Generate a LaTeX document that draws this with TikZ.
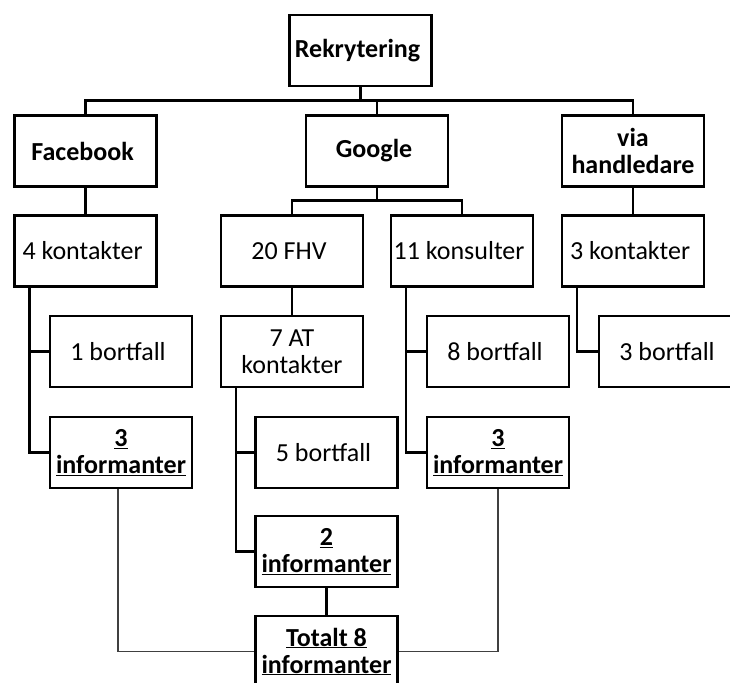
\documentclass[tikz,border=0pt]{standalone}
\usepackage{fontspec}
\setmainfont{Carlito}
\def\boxw{142pt}
\def\boxh{71pt}
\def\armsep{16pt}

\begin{document}
\begin{tikzpicture}[
    x=1pt, y=-1pt,
    orgbox/.style={
      draw, line width=2.4pt, fill=white,
      minimum width=\boxw, minimum height=\boxh,
      inner sep=1pt, align=center,
      font=\fontsize{26}{27}\selectfont
    },
    headbox/.style={
      orgbox, font=\fontsize{26}{27}\selectfont\bfseries
    },
    conn/.style={
      line width=2.4pt
    },
    thinconn/.style={
      line width=1.2pt, color=black!75
    }
  ]
    \clip (0,0) rectangle (730,682);

    \node[headbox] (rek) at (360.5,50.5) { Rekrytering };

    \node[headbox] (fb)   at (85.5,151)  { Facebook };
    \node[headbox] (goog) at (377,151)   { Google };
    \node[headbox] (via)  at (633,151)   { via\\handledare };

    \node[orgbox] (fb4)  at (85.5,251) { 4 kontakter };
    \node[orgbox] (fhv)  at (292,251)  { 20 FHV };
    \node[orgbox] (kons) at (462,251)  { 11 konsulter };
    \node[orgbox] (via3) at (633,251)  { 3 kontakter };

    \node[orgbox] (bf1) at (121,351.5) { 1 bortfall };
    \node[orgbox] (at7) at (292,351.5) { 7 AT\\kontakter };
    \node[orgbox] (bf8) at (498,351.5) { 8 bortfall };
    \node[orgbox] (bf3) at (670,351.5) { 3 bortfall };

    \node[headbox] (infa) at (121,452.5)   { \underline{3}\\\underline{informanter} };
    \node[orgbox]  (bf5)  at (326.5,452.5) { 5 bortfall };
    \node[headbox] (infb) at (498,452.5)   { \underline{3}\\\underline{informanter} };

    \node[headbox] (inf2) at (326.5,551.5) { \underline{2}\\\underline{informanter} };

    \node[headbox] (tot) at (326.5,651.5) { \underline{Totalt 8}\\\underline{informanter} };

    \coordinate (bus)  at (360.5,100.5);
    \coordinate (gbus) at (377,200.5);

    \draw[conn] (rek.south) -- (bus);
    \draw[conn] (fb.north) |- (bus) -| (via.north);
    \draw[conn] (goog.north) -- (goog.north|-bus);

    \draw[conn] (fb.south) -- (fb4.north);
    \draw[conn] (via.south) -- (via3.north);
    \draw[conn] (goog.south) -- (gbus);
    \draw[conn] (fhv.north) |- (gbus) -| (kons.north);
    \draw[conn] (fhv.south) -- (at7.north);

    \draw[conn] ([xshift=\armsep]fb4.south west) |- (bf1.west);
    \draw[conn] ([xshift=\armsep]fb4.south west) |- (infa.west);
    \draw[conn] ([xshift=\armsep]at7.south west) |- (bf5.west);
    \draw[conn] ([xshift=\armsep]at7.south west) |- (inf2.west);
    \draw[conn] ([xshift=\armsep]kons.south west) |- (bf8.west);
    \draw[conn] ([xshift=\armsep]kons.south west) |- (infb.west);
    \draw[conn] ([xshift=\armsep]via3.south west) |- (bf3.west);

    \draw[conn] (inf2.south) -- (tot.north);

    \draw[thinconn] ([xshift=-3pt]infa.south) |- (tot.west);
    \draw[thinconn] (infb.south) |- (tot.east);
  \end{tikzpicture}
\end{document}
